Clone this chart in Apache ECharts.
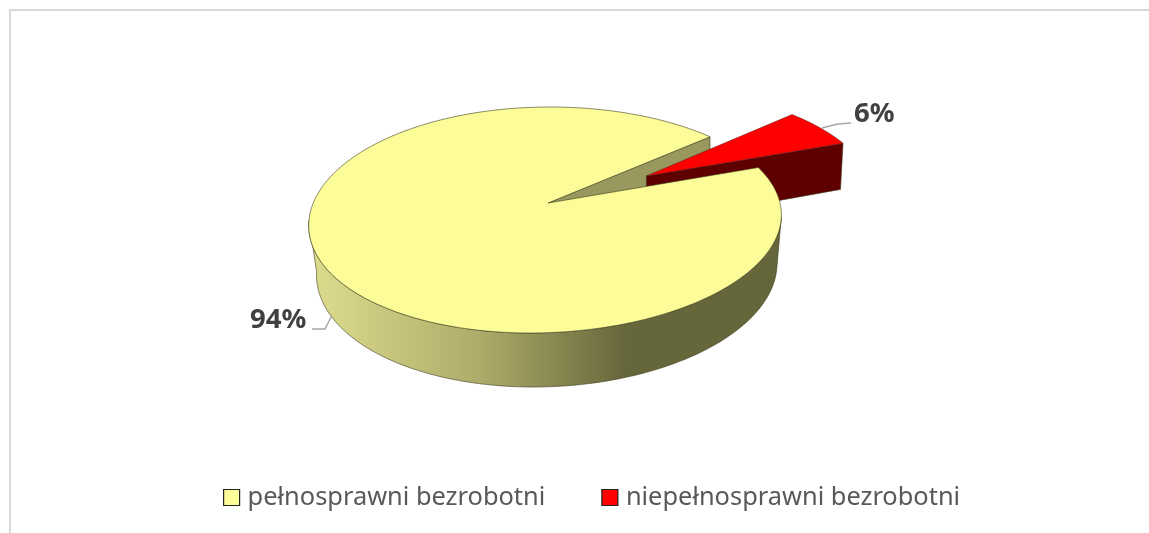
<!DOCTYPE html>
<html><head><meta charset="utf-8">
<style>html,body{margin:0;padding:0;background:#fff}#c{width:1149px;height:533px}</style>
<script src="https://cdn.jsdelivr.net/npm/echarts@6/dist/echarts.min.js"></script>
</head><body><div id="c"></div>
<script>
const categories = ['pełnosprawni bezrobotni', 'niepełnosprawni bezrobotni'];
const values = [94, 6];
const explode = [0, 0.5];
const topColors = ['#fcfc98', '#ff0000'];
const cutColors = ['#98985f', '#5f0000'];
const startAngle = 71;

const total = values.reduce((a, b) => a + b, 0);
const topPlane = { x0: 548, A: 233.5, e: 6, h: 5, a: -79.9, b: 203, c: 0.1504, g: 0.008 };
const botPlane = { x0: 549.5, A: 228, e: 6, h: 3, a: -81.5, b: 253, c: 0.1356, g: 0.008 };
const project = (pl, u, v) => {
  const d = 1 + pl.c * v + pl.g * u;
  return [pl.x0 + (pl.A * u + pl.e * v) / d - pl.h * v * v, (pl.a * v + pl.b) / d];
};
const rad = d => d * Math.PI / 180;

function sliceGeom(idx) {
  let from = startAngle;
  for (let i = 0; i < idx; i++) from += values[i] / total * 360;
  const span = values[idx] / total * 360;
  const mid = rad(from + span / 2);
  const ox = explode[idx] * Math.sin(mid), oy = explode[idx] * Math.cos(mid);
  const pt = (pl, deg, r) => project(pl, ox + r * Math.sin(rad(deg)), oy + r * Math.cos(rad(deg)));
  return { from, to: from + span, pt };
}
const arc = (g, pl, a, b) => {
  const n = Math.max(2, Math.ceil(Math.abs(b - a) / 1.5));
  const out = [];
  for (let i = 0; i <= n; i++) out.push(g.pt(pl, a + (b - a) * i / n, 1));
  return out;
};
const poly = (points, fill, z2, stroke, lw) => ({
  type: 'polygon', silent: true, z2,
  shape: { points },
  style: { fill, stroke: stroke || 'rgba(60,60,30,0.85)', lineWidth: lw === undefined ? 0.7 : lw, lineJoin: 'round' }
});

function renderSlice(idx) {
  return function (params, api) {
    const g = sliceGeom(idx);
    const children = [];
    const apexT = g.pt(topPlane, 0, 0), apexB = g.pt(botPlane, 0, 0);
    const rT = g.pt(topPlane, g.to, 1), rB = g.pt(botPlane, g.to, 1);
    if (idx === 0) {
      children.push(poly([apexT, rT, rB, apexB], cutColors[0], 1));
      const wall = arc(g, topPlane, 98, 262).concat(arc(g, botPlane, 262, 98));
      children.push(poly(wall, new echarts.graphic.LinearGradient(316, 0, 782, 0, [
        { offset: 0, color: '#dcdb8c' },
        { offset: 0.35, color: '#aeac6a' },
        { offset: 0.665, color: '#66663b' },
        { offset: 1, color: '#66663b' }
      ], true), 10));
      children.push(poly([apexT].concat(arc(g, topPlane, g.from, g.to)), topColors[0], 11));
    } else {
      children.push(poly([apexT, rT, rB, apexB], cutColors[1], 5));
      children.push(poly([apexT].concat(arc(g, topPlane, g.from, g.to)), topColors[1], 6, 'rgba(90,20,20,0.7)'));
    }
    return { type: 'group', children };
  };
}

const pct = i => Math.round(values[i] / total * 100) + '%';
const dataLabel = (i, x, y, line) => ([
  { type: 'polyline', silent: true, z: 20, shape: { points: line }, style: { stroke: '#a6a6a6', lineWidth: 1.4, fill: null } },
  { type: 'text', silent: true, z: 21, x, y, style: { text: pct(i), fill: '#404040', font: 'bold 27.5px "Noto Sans"', textAlign: 'left', textVerticalAlign: 'middle' } }
]);

const option = {
  animation: false,
  backgroundColor: '#fff',
  legend: {
    left: 218, top: 480, itemWidth: 16, itemHeight: 16, itemGap: 56, icon: 'rect',
    selectedMode: false,
    textStyle: { color: '#595959', fontFamily: '"Noto Sans"', fontSize: 25.4, padding: [0, 0, 0, 3] },
    data: categories.map((name, i) => ({ name, itemStyle: { color: topColors[i], borderColor: '#222', borderWidth: 1.2 } }))
  },
  graphic: [
    { type: 'line', silent: true, shape: { x1: 9, y1: 10, x2: 1149, y2: 10 }, style: { stroke: '#d9d9d9', lineWidth: 2 } },
    { type: 'line', silent: true, shape: { x1: 10, y1: 9, x2: 10, y2: 533 }, style: { stroke: '#d9d9d9', lineWidth: 2 } },
    ...dataLabel(0, 250, 320, [[312, 329], [325, 329], [332, 315]]),
    ...dataLabel(1, 854, 114, [[851, 123], [838, 124], [822, 128]])
  ],
  series: categories.map((name, i) => ({
    type: 'custom', name, coordinateSystem: 'none', silent: true, clip: false,
    itemStyle: { color: topColors[i] },
    data: [[values[i]]],
    renderItem: renderSlice(i)
  }))
};
echarts.init(document.getElementById('c'), null, { renderer: 'canvas' }).setOption(option);
</script></body></html>
